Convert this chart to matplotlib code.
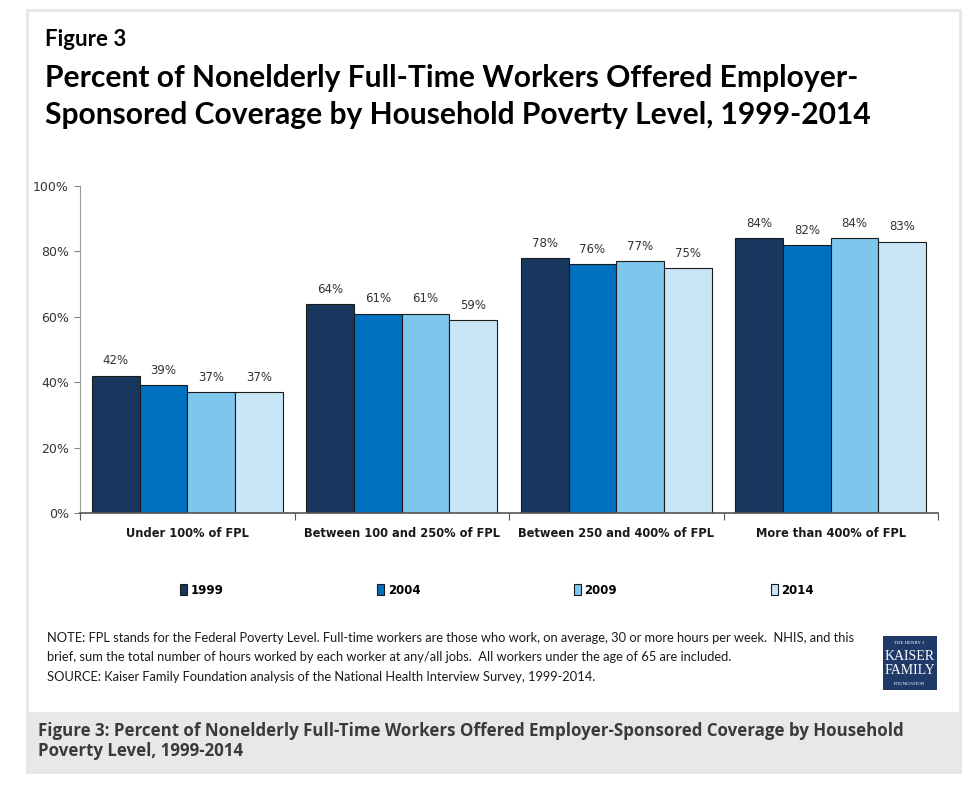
import matplotlib
matplotlib.use("Agg")
import matplotlib.pyplot as plt
import numpy as np
from matplotlib.patches import Rectangle

categories = ["Under 100% of FPL", "Between 100 and 250% of FPL",
              "Between 250 and 400% of FPL", "More than 400% of FPL"]
years = ["1999", "2004", "2009", "2014"]
v1999 = [42, 64, 78, 84]
v2004 = [39, 61, 76, 82]
v2009 = [37, 61, 77, 84]
v2014 = [37, 59, 75, 83]
series = [v1999, v2004, v2009, v2014]
colors = ["#17375E", "#0070C0", "#7FC6EC", "#C9E6F7"]
yticks = [0, 20, 40, 60, 80, 100]

W, H = 975, 788
fig = plt.figure(figsize=(W / 100, H / 100), dpi=100)
fig.patch.set_facecolor("white")

def fx(px):
    return px / W

def fy(py):
    return 1 - py / H

# outer frame and caption band
fig.patches.append(Rectangle((fx(27), fy(772)), fx(960) - fx(27), fy(10) - fy(772),
                             transform=fig.transFigure, facecolor="white",
                             edgecolor="#E6E6E6", linewidth=2, zorder=-2))
fig.patches.append(Rectangle((fx(27), fy(772)), fx(960) - fx(27), fy(712) - fy(772),
                             transform=fig.transFigure, facecolor="#E8E8E8",
                             edgecolor="none", zorder=-1))

title_font = ["Lato", "DejaVu Sans"]
fig.text(fx(45), fy(40), "Figure 3", fontsize=16, fontweight="bold",
         family=title_font, va="center", ha="left", color="black")
fig.text(fx(45), fy(78), "Percent of Nonelderly Full-Time Workers Offered Employer-",
         fontsize=21.6, fontweight="bold", family=title_font, va="center", ha="left")
fig.text(fx(45), fy(115), "Sponsored Coverage by Household Poverty Level, 1999-2014",
         fontsize=21.6, fontweight="bold", family=title_font, va="center", ha="left")

ax = fig.add_axes([fx(80), fy(513), fx(938) - fx(80), fy(186) - fy(513)])
ax.set_facecolor("none")
x = np.arange(len(categories))
bw = 0.2225
for i, (vals, c) in enumerate(zip(series, colors)):
    pos = x + (i - 1.5) * bw
    ax.bar(pos, vals, width=bw, color=c, edgecolor="#1a1a1a", linewidth=0.8,
           label=years[i], zorder=2)
    for p, v in zip(pos, vals):
        ax.text(p, v + 2.5, f"{v}%", ha="center", va="bottom", fontsize=8.5,
                color="#333333", family="DejaVu Sans")

ax.set_xlim(-0.5, 3.5)
ax.set_ylim(0, 100)
ax.set_yticks(yticks)
ax.set_yticklabels([f"{t}%" for t in yticks], fontsize=9, color="#333333",
                   family="DejaVu Sans")
ax.set_xticks(np.arange(-0.5, 4.0, 1.0))
ax.set_xticklabels([])
ax.set_xticks(x, minor=True)
ax.set_xticklabels(categories, minor=True, fontsize=8.3, fontweight="bold",
                   color="#1a1a1a", family="DejaVu Sans")
ax.tick_params(axis="x", which="minor", length=0, pad=10)
ax.tick_params(axis="x", which="major", length=5, color="#555555", direction="out")
ax.tick_params(axis="y", length=4, color="#888888", direction="out", pad=4)
for s in ["top", "right"]:
    ax.spines[s].set_visible(False)
ax.spines["left"].set_color("#999999")
ax.spines["bottom"].set_color("#555555")
ax.spines["bottom"].set_linewidth(1.2)

# legend
leg = fig.legend(loc="center", bbox_to_anchor=(fx(497), fy(590)), ncol=4,
                 frameon=False, prop={"family": "DejaVu Sans", "weight": "bold", "size": 8.5},
                 handlelength=0.6, handleheight=1.0, handletextpad=0.3, columnspacing=13.0)

note_font = ["Lato", "DejaVu Sans"]
fig.text(fx(47), fy(638), "NOTE: FPL stands for the Federal Poverty Level. Full-time workers are those who work, on average, 30 or more hours per week.  NHIS, and this",
         fontsize=9.3, family=note_font, va="center", ha="left", color="#1a1a1a")
fig.text(fx(47), fy(657), "brief, sum the total number of hours worked by each worker at any/all jobs.  All workers under the age of 65 are included.",
         fontsize=9.3, family=note_font, va="center", ha="left", color="#1a1a1a")
fig.text(fx(47), fy(677), "SOURCE: Kaiser Family Foundation analysis of the National Health Interview Survey, 1999-2014.",
         fontsize=9.3, family=note_font, va="center", ha="left", color="#1a1a1a")

# logo
fig.patches.append(Rectangle((fx(883), fy(690)), fx(937) - fx(883), fy(636) - fy(690),
                             transform=fig.transFigure, facecolor="#1F3A68",
                             edgecolor="none", zorder=2))
cx = fx(910)
fig.text(cx, fy(643), "THE HENRY J.", fontsize=3.5, color="white", ha="center", va="center",
         family="Liberation Serif", zorder=3)
fig.text(cx, fy(656), "KAISER", fontsize=10, color="white", ha="center", va="center",
         family="Liberation Serif", zorder=3)
fig.text(cx, fy(671), "FAMILY", fontsize=10, color="white", ha="center", va="center",
         family="Liberation Serif", zorder=3)
fig.text(cx, fy(684), "FOUNDATION", fontsize=3.5, color="white", ha="center", va="center",
         family="Liberation Serif", zorder=3)

cap_font = ["Open Sans", "DejaVu Sans"]
fig.text(fx(38), fy(731), "Figure 3: Percent of Nonelderly Full-Time Workers Offered Employer-Sponsored Coverage by Household",
         fontsize=12.2, fontweight="bold", family=cap_font, va="center", ha="left", color="#3a3a3a", zorder=3)
fig.text(fx(38), fy(751), "Poverty Level, 1999-2014",
         fontsize=12.2, fontweight="bold", family=cap_font, va="center", ha="left", color="#3a3a3a", zorder=3)

fig.savefig("out.png", dpi=100, facecolor="white")
